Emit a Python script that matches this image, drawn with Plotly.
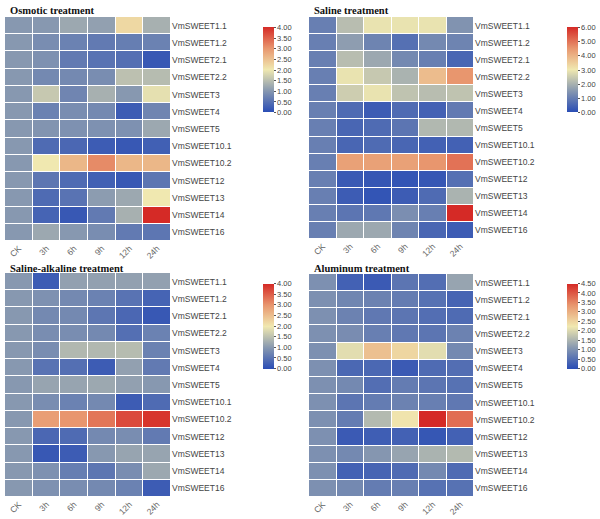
import plotly.graph_objects as go

times = ["CK", "3h", "6h", "9h", "12h", "24h"]
genes = ["VmSWEET1.1", "VmSWEET1.2", "VmSWEET2.1", "VmSWEET2.2", "VmSWEET3", "VmSWEET4",
         "VmSWEET5", "VmSWEET10.1", "VmSWEET10.2", "VmSWEET12", "VmSWEET13", "VmSWEET14", "VmSWEET16"]

osmotic = [
    [1, 1.0, 1.2, 1.1, 2.2, 1.3],
    [1, 0.85, 0.7, 0.6, 0.65, 0.7],
    [1, 0.9, 0.6, 0.5, 0.45, 0.15],
    [1, 0.8, 0.8, 0.85, 1.5, 1.45],
    [1, 1.6, 0.75, 1.3, 1.0, 1.9],
    [1, 0.7, 0.85, 0.8, 0.2, 0.75],
    [1, 0.95, 0.9, 0.9, 0.9, 1.2],
    [1, 0.4, 0.35, 0.2, 0.15, 0.25],
    [1, 2.0, 2.6, 3.1, 2.6, 2.6],
    [1, 0.55, 0.4, 0.25, 0.15, 0.55],
    [1, 0.4, 0.5, 1.05, 1.2, 2.0],
    [1, 0.3, 0.15, 0.6, 1.3, 4.0],
    [1, 1.2, 1.0, 0.85, 0.6, 0.55],
]
saline = [
    [1, 2.2, 2.9, 2.9, 2.9, 1.4],
    [1, 1.6, 1.1, 0.7, 1.2, 1.1],
    [1, 2.2, 1.8, 1.2, 1.0, 0.5],
    [1, 2.9, 2.4, 2.0, 3.8, 4.5],
    [1, 2.5, 2.9, 2.3, 2.2, 2.3],
    [1, 0.6, 0.3, 0.6, 0.4, 0.9],
    [1, 0.5, 0.6, 0.8, 2.1, 2.1],
    [1, 0.5, 0.6, 0.5, 0.4, 0.4],
    [1, 4.3, 4.3, 4.3, 4.5, 5.0],
    [1, 0.25, 0.2, 0.15, 0.2, 0.7],
    [1, 0.3, 0.15, 0.3, 0.6, 2.0],
    [1, 0.8, 0.85, 1.3, 1.0, 6.0],
    [1, 1.8, 1.8, 1.1, 0.5, 0.3],
]
saline_alkaline = [
    [1, 0.2, 1.1, 1.1, 1.1, 1.1],
    [1, 0.9, 0.8, 0.7, 0.5, 0.3],
    [1, 0.8, 0.8, 0.55, 0.35, 0.15],
    [1, 0.85, 0.85, 0.8, 0.45, 0.7],
    [1, 0.85, 1.4, 1.4, 1.45, 0.7],
    [1, 0.5, 0.45, 0.2, 1.1, 0.6],
    [1, 1.15, 1.15, 1.2, 1.1, 1.0],
    [1, 0.85, 0.7, 0.8, 0.2, 0.4],
    [1, 2.9, 3.0, 3.3, 3.7, 3.9],
    [1, 0.35, 0.4, 0.8, 0.85, 0.6],
    [1, 0.15, 0.2, 1.0, 1.15, 1.15],
    [1, 0.9, 0.65, 0.55, 0.85, 1.2],
    [1, 0.9, 0.85, 0.8, 0.7, 0.2],
]
aluminum = [
    [1, 0.3, 0.2, 0.6, 0.5, 1.3],
    [1, 0.85, 0.8, 0.7, 0.55, 0.35],
    [1, 0.8, 0.65, 0.6, 0.5, 0.45],
    [1, 0.95, 0.75, 0.65, 0.6, 0.8],
    [1, 2.1, 2.8, 2.5, 2.1, 0.9],
    [1, 0.4, 0.4, 0.2, 0.45, 0.5],
    [1, 0.9, 0.5, 0.7, 0.6, 0.55],
    [1, 0.6, 0.7, 0.8, 0.75, 0.65],
    [1, 0.7, 1.6, 2.3, 4.5, 3.8],
    [1, 0.2, 0.25, 0.3, 0.15, 0.3],
    [1, 0.9, 1.1, 1.3, 1.5, 1.6],
    [1, 0.3, 0.35, 0.45, 0.9, 0.45],
    [1, 0.9, 0.7, 0.75, 0.55, 0.55],
]

titles = ["Osmotic treatment", "Saline treatment", "Saline-alkaline treatment", "Aluminum treatment"]
datasets = [osmotic, saline, saline_alkaline, aluminum]
zmaxes = [4.0, 6.0, 4.0, 4.5]
dticks = [0.5, 1.0, 0.5, 0.5]

colorscale = [[0, "#2a4db5"], [0.25, "#8798b0"], [0.5, "#f0e8b0"], [0.75, "#e8966e"], [1, "#d52a26"]]

W, H = 600, 519
# panel pixel boxes: (x0, x1, ytop, ybottom), colorbar (x, ycenter), title (x, y)
panels = [
    ((5, 171, 17, 241), (263, 70), (8, 11)),
    ((309, 474, 17, 239), (567, 70), (312, 11)),
    ((5, 171, 273, 497), (263, 326), (8, 268)),
    ((309, 474, 274, 497), (567, 326), (312, 268)),
]

fig = go.Figure()
annotations = []
for i, (title, data, zmax, dt, (box, cb, tp)) in enumerate(zip(titles, datasets, zmaxes, dticks, panels)):
    n = "" if i == 0 else str(i + 1)
    x0, x1, yt, yb = box
    fig.add_trace(go.Heatmap(
        z=data, x=times, y=genes, xaxis="x" + n, yaxis="y" + n,
        zmin=0, zmax=zmax, colorscale=colorscale, xgap=1, ygap=1,
        colorbar=dict(
            x=cb[0] / W, xanchor="left", y=1 - cb[1] / H, yanchor="middle",
            len=85, lenmode="pixels", thickness=11, thicknessmode="pixels",
            ypad=0, xpad=0,
            outlinewidth=0, tickformat=".2f", dtick=dt, tick0=0,
            ticks="outside", ticklen=2, tickcolor="#555",
            tickfont=dict(family="Arial, Liberation Sans", size=7.5, color="#444"),
        ),
    ))
    fig.layout["xaxis" + n] = dict(
        domain=[x0 / W, x1 / W], anchor="y" + n, tickangle=-45, showgrid=False,
        zeroline=False, ticks="", tickfont=dict(family="Arial, Liberation Sans", size=8.5, color="#666"),
    )
    fig.layout["yaxis" + n] = dict(
        domain=[1 - yb / H, 1 - yt / H], anchor="x" + n, side="right", autorange="reversed",
        showgrid=False, zeroline=False, ticks="",
        tickfont=dict(family="Arial, Liberation Sans", size=8.5, color="#444"),
    )
    annotations.append(dict(
        text="<b>" + title + "</b>", x=tp[0] / W, y=1 - tp[1] / H, xref="paper", yref="paper",
        xanchor="left", yanchor="middle", showarrow=False,
        font=dict(family="Liberation Serif, Times New Roman", size=10.5, color="#111"),
    ))

fig.update_layout(
    width=W, height=H, margin=dict(l=0, r=0, t=0, b=0),
    paper_bgcolor="white", plot_bgcolor="white", annotations=annotations,
)
fig.write_html("out.html")
